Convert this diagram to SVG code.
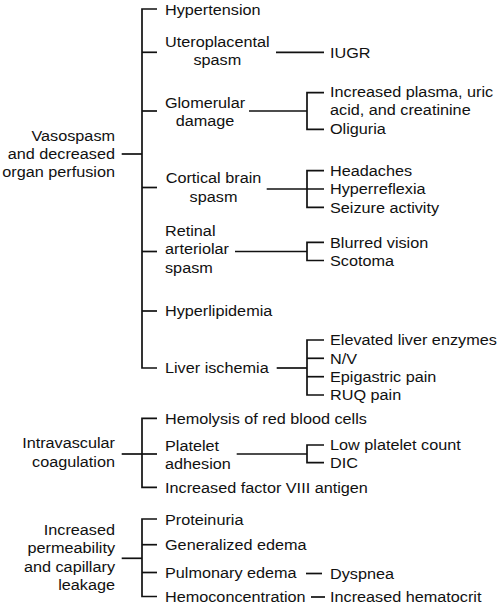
<svg xmlns="http://www.w3.org/2000/svg" width="501" height="606" viewBox="0 0 501 606">
<style>
text{font-family:"Liberation Sans",Arial,Helvetica,sans-serif;font-size:14.5px;fill:#111}
.m{text-anchor:middle}
.e{text-anchor:end}
path,line{stroke:#111;stroke-width:1.7;fill:none}
</style>
<rect width="501" height="606" fill="#fff"/>
<g id="connectors">
<!-- section 1 -->
<path d="M121.7,154 H142"/>
<path d="M157,9 H142 V368 H157"/>
<path d="M142,52.3 H157"/>
<path d="M142,111 H157"/>
<path d="M142,187.5 H157"/>
<path d="M142,251.5 H157"/>
<path d="M142,311 H157"/>
<path d="M276,52.3 H324"/>
<path d="M249,111 H307"/>
<path d="M324,92.7 H307 V129.3 H324"/>
<path d="M266.7,189 H324"/>
<path d="M324,170.7 H307 V207.3 H324"/>
<path d="M235,251.5 H307"/>
<path d="M324,242.3 H307 V260.5 H324"/>
<path d="M276.7,368 H307"/>
<path d="M324,340 H307 V395 H324"/>
<path d="M307,358.3 H324"/>
<path d="M307,376.7 H324"/>
<!-- section 2 -->
<path d="M121.7,454 H142"/>
<path d="M157,418.3 H142 V487.3 H157"/>
<path d="M142,454 H157"/>
<path d="M236.7,454 H307"/>
<path d="M324,445 H307 V462.7 H324"/>
<!-- section 3 -->
<path d="M121.7,558.3 H142"/>
<path d="M157,519 H142 V596.5 H157"/>
<path d="M142,544.7 H157"/>
<path d="M142,572.5 H157"/>
<path d="M306,573.5 H322"/>
<path d="M311,597 H325"/>
</g>
<g id="vasospasm"><text class="e" transform="translate(115,140.5) scale(1.12,1)"><tspan x="0">Vasospasm</tspan><tspan x="0" dy="18.5">and decreased</tspan><tspan x="0" dy="18.5">organ perfusion</tspan></text></g>
<g id="hypertension"><text transform="translate(165,14.5) scale(1.12,1)">Hypertension</text></g>
<g id="uteroplacental"><text class="m" transform="translate(217.3,46.7) scale(1.12,1)"><tspan x="0">Uteroplacental</tspan><tspan x="0" dy="18.5">spasm</tspan></text></g>
<g id="iugr"><text transform="translate(330,57.5) scale(1.12,1)">IUGR</text></g>
<g id="glomerular"><text class="m" transform="translate(205,108) scale(1.12,1)"><tspan x="0">Glomerular</tspan><tspan x="0" dy="18.5">damage</tspan></text></g>
<g id="plasma"><text transform="translate(330,97) scale(1.12,1)"><tspan x="0">Increased plasma, uric</tspan><tspan x="0" dy="18.5">acid, and creatinine</tspan></text></g>
<g id="oliguria"><text transform="translate(330,134) scale(1.12,1)">Oliguria</text></g>
<g id="cortical"><text class="m" transform="translate(213.5,183.3) scale(1.12,1)"><tspan x="0">Cortical brain</tspan><tspan x="0" dy="18.5">spasm</tspan></text></g>
<g id="headaches"><text transform="translate(330,175.5) scale(1.12,1)">Headaches</text></g>
<g id="hyperreflexia"><text transform="translate(330,194) scale(1.12,1)">Hyperreflexia</text></g>
<g id="seizure"><text transform="translate(330,212.5) scale(1.12,1)">Seizure activity</text></g>
<g id="retinal"><text transform="translate(165,236) scale(1.12,1)"><tspan x="0">Retinal</tspan><tspan x="0" dy="18.5">arteriolar</tspan><tspan x="0" dy="18.5">spasm</tspan></text></g>
<g id="blurred"><text transform="translate(330,247.5) scale(1.12,1)">Blurred vision</text></g>
<g id="scotoma"><text transform="translate(330,266) scale(1.12,1)">Scotoma</text></g>
<g id="hyperlipidemia"><text transform="translate(165,316.3) scale(1.12,1)">Hyperlipidemia</text></g>
<g id="liver"><text transform="translate(165,373.3) scale(1.12,1)">Liver ischemia</text></g>
<g id="enzymes"><text transform="translate(330,345.3) scale(1.12,1)">Elevated liver enzymes</text></g>
<g id="nv"><text transform="translate(330,363.6) scale(1.12,1)">N/V</text></g>
<g id="epigastric"><text transform="translate(330,382) scale(1.12,1)">Epigastric pain</text></g>
<g id="ruq"><text transform="translate(330,400.3) scale(1.12,1)">RUQ pain</text></g>
<g id="intravascular"><text class="e" transform="translate(115,448.3) scale(1.12,1)"><tspan x="0">Intravascular</tspan><tspan x="0" dy="18.5">coagulation</tspan></text></g>
<g id="hemolysis"><text transform="translate(165,423.5) scale(1.12,1)">Hemolysis of red blood cells</text></g>
<g id="platelet"><text transform="translate(165,450.7) scale(1.12,1)"><tspan x="0">Platelet</tspan><tspan x="0" dy="18.5">adhesion</tspan></text></g>
<g id="lowplatelet"><text transform="translate(330,450) scale(1.12,1)">Low platelet count</text></g>
<g id="dic"><text transform="translate(330,468) scale(1.12,1)">DIC</text></g>
<g id="factor8"><text transform="translate(165,492.7) scale(1.12,1)">Increased factor VIII antigen</text></g>
<g id="permeability"><text class="e" transform="translate(115,535) scale(1.12,1)"><tspan x="0">Increased</tspan><tspan x="0" dy="18.4">permeability</tspan><tspan x="0" dy="18.4">and capillary</tspan><tspan x="0" dy="18.4">leakage</tspan></text></g>
<g id="proteinuria"><text transform="translate(165,524.5) scale(1.12,1)">Proteinuria</text></g>
<g id="edema"><text transform="translate(165,550) scale(1.12,1)">Generalized edema</text></g>
<g id="pulmonary"><text transform="translate(165,578.2) scale(1.12,1)">Pulmonary edema</text></g>
<g id="dyspnea"><text transform="translate(330,578.5) scale(1.12,1)">Dyspnea</text></g>
<g id="hemoconcentration"><text transform="translate(165,602) scale(1.12,1)">Hemoconcentration</text></g>
<g id="hematocrit"><text transform="translate(330,602) scale(1.12,1)">Increased hematocrit</text></g>
</svg>
